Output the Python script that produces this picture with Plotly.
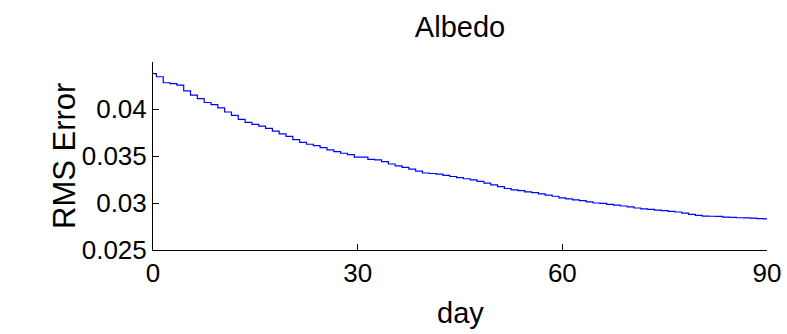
import plotly.graph_objects as go

# Data (daily RMS error of albedo)
days = list(range(0, 91))
rms_error = [
    0.04377, 0.04343, 0.04279, 0.04270, 0.04254, 0.04193, 0.04147, 0.04111, 0.04069, 0.04047,
    0.04011, 0.03968, 0.03933, 0.03890, 0.03858, 0.03836, 0.03818, 0.03793, 0.03764, 0.03736,
    0.03708, 0.03675, 0.03646, 0.03625, 0.03611, 0.03590, 0.03565, 0.03547, 0.03529, 0.03515,
    0.03488, 0.03488, 0.03464, 0.03458, 0.03440, 0.03415, 0.03394, 0.03379, 0.03361, 0.03340,
    0.03319, 0.03314, 0.03308, 0.03293, 0.03282, 0.03271, 0.03258, 0.03247, 0.03229, 0.03211,
    0.03193, 0.03175, 0.03154, 0.03140, 0.03132, 0.03118, 0.03111, 0.03097, 0.03083, 0.03072,
    0.03054, 0.03043, 0.03033, 0.03025, 0.03011, 0.03000, 0.02995, 0.02986, 0.02977, 0.02968,
    0.02958, 0.02947, 0.02938, 0.02933, 0.02925, 0.02918, 0.02911, 0.02904, 0.02893, 0.02879,
    0.02869, 0.02861, 0.02859, 0.02857, 0.02850, 0.02848, 0.02843, 0.02841, 0.02839, 0.02834,
    0.02832,
]
x_ticks = [0, 30, 60, 90]
y_ticks = [0.025, 0.03, 0.035, 0.04]
y_tick_labels = ["0.025", "0.03", "0.035", "0.04"]

FONT = "Liberation Sans, Arial, sans-serif"
W, H = 787, 334

fig = go.Figure()
fig.add_trace(go.Scatter(
    x=days, y=rms_error, mode="lines", line_shape="hvh",
    line=dict(color="rgb(0,0,255)", width=1.2), showlegend=False,
))

fig.update_layout(
    width=W, height=H,
    margin=dict(l=153, r=20, t=62, b=84, autoexpand=False),
    paper_bgcolor="white", plot_bgcolor="white",
    font=dict(family=FONT, color="black"),
    title=dict(text="Albedo", x=0.5, xref="paper", xanchor="center",
               y=1 - 27 / H, yref="container", yanchor="middle",
               font=dict(size=29, family=FONT, color="black")),
    xaxis=dict(range=[0, 90], tickvals=x_ticks, ticktext=[str(v) for v in x_ticks],
               ticks="inside", ticklen=6, tickcolor="black", tickwidth=1,
               showline=True, linecolor="black", linewidth=1, mirror=False,
               showgrid=False, zeroline=False, automargin=False,
               tickfont=dict(size=26, family=FONT, color="black")),
    yaxis=dict(range=[0.025, 0.045], tickvals=y_ticks, ticktext=y_tick_labels,
               ticks="inside", ticklen=6, tickcolor="black", tickwidth=1,
               showline=True, linecolor="black", linewidth=1, mirror=False,
               showgrid=False, zeroline=False, automargin=False,
               tickfont=dict(size=26, family=FONT, color="black")),
    annotations=[
        dict(text="RMS Error", textangle=-90, xref="paper", yref="paper",
             x=(64 - 153) / 614, y=0.5, xanchor="center", yanchor="middle",
             showarrow=False, font=dict(size=31, family=FONT, color="black")),
        dict(text="day", xref="paper", yref="paper",
             x=0.5, y=(250 - 313) / 188, xanchor="center", yanchor="middle",
             showarrow=False, font=dict(size=29, family=FONT, color="black")),
    ],
)

# remove the default page margin so the figure fills the window exactly
fig.write_html("out.html",
               config={"displayModeBar": False},
               post_script="document.body.style.margin='0';document.body.style.overflow='hidden';")
